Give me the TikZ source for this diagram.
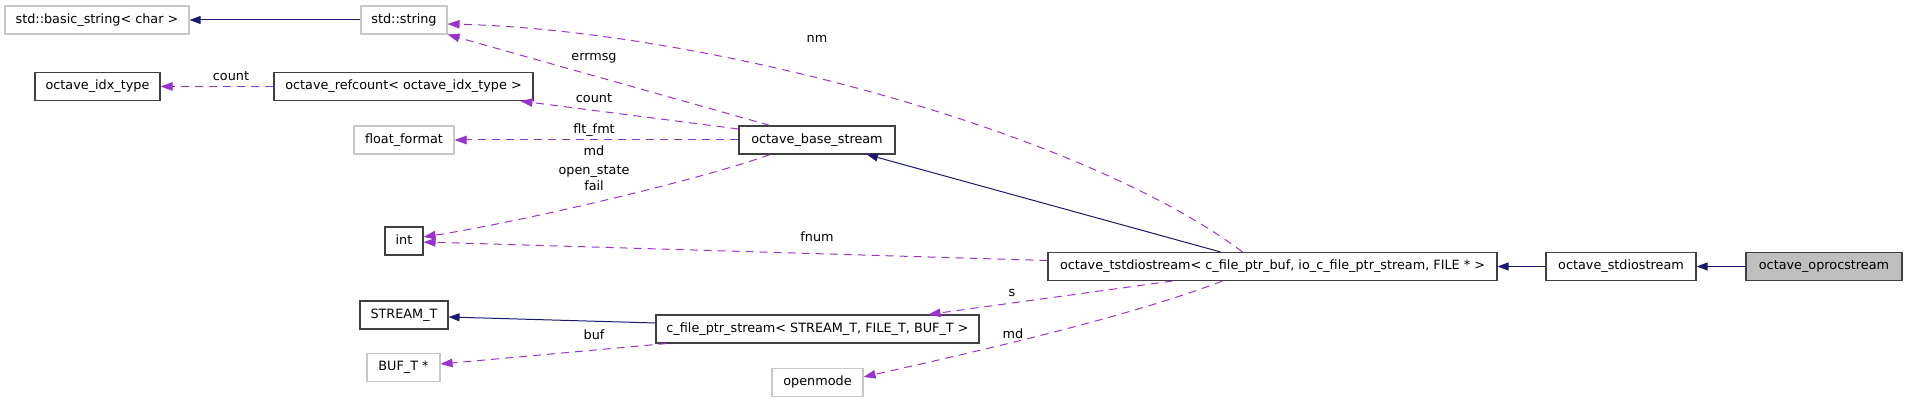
\documentclass[tikz,border=0pt]{standalone}
\usepackage{fontspec}
\setmainfont{DejaVu Sans}
\usetikzlibrary{arrows.meta}
\definecolor{navy}{RGB}{25,25,112}
\definecolor{orchid}{RGB}{154,50,205}
\definecolor{lgray}{RGB}{200,200,200}
\definecolor{fillgray}{RGB}{191,191,191}
\definecolor{bord}{RGB}{64,64,64}
\begin{document}
\begin{tikzpicture}[x=1pt,y=-1pt,
  box/.style={draw=bord, line width=1.1pt, minimum height=28pt, inner sep=0pt,
    text height=9.5pt, text depth=3pt, font=\fontsize{12.8}{15}\selectfont},
  gbox/.style={box, draw=lgray},
  inh/.style={draw=navy, line width=1pt, -{Triangle[length=11pt,width=8pt]}},
  use/.style={draw=orchid, line width=1pt, dash pattern=on 8pt off 6pt,
    -{Triangle[length=12pt,width=8.5pt]}},
  lbl/.style={font=\fontsize{12.8}{15}\selectfont, inner sep=0pt, text height=9.5pt, text depth=3pt}]
\useasboundingbox (0,0) rectangle (1907,403);

% nodes
\node[gbox, minimum width=184pt] (bstr) at (97,20) {std::basic\_string< char >};
\node[gbox, minimum width=86pt] (str) at (404,20) {std::string};
\node[box, minimum width=125pt] (idx) at (97.5,86.5) {octave\_idx\_type};
\node[box, minimum width=259pt] (ref) at (403.5,86.5) {octave\_refcount< octave\_idx\_type >};
\node[gbox, minimum width=100pt] (ff) at (404,140) {float\_format};
\node[box, minimum width=38pt] (int) at (404,241) {int};
\node[box, minimum width=88pt] (st) at (404,315) {STREAM\_T};
\node[gbox, minimum width=73pt] (buf) at (403.5,367.5) {BUF\_T *};
\node[box, minimum width=156pt] (base) at (817,140) {octave\_base\_stream};
\node[box, minimum width=323pt] (cfp) at (817.5,329) {c\_file\_ptr\_stream< STREAM\_T, FILE\_T, BUF\_T >};
\node[gbox, minimum width=91pt] (om) at (817.5,382.5) {openmode};
\node[box, minimum width=449pt] (tst) at (1272.5,266.5) {octave\_tstdiostream< c\_file\_ptr\_buf, io\_c\_file\_ptr\_stream, FILE * >};
\node[box, minimum width=150pt] (std) at (1621,266.5) {octave\_stdiostream};
\node[box, minimum width=156pt, fill=fillgray] (opr) at (1824,266.5) {octave\_oprocstream};

% inheritance
\draw[inh] (str.west) -- (bstr.east);
\draw[inh] ([xshift=-52]tst.north) -- ([xshift=50]base.south);
\draw[inh] ([yshift=6]cfp.west) -- ([yshift=-2]st.east);
\draw[inh] (std.west) -- (tst.east);
\draw[inh] (opr.west) -- (std.east);

% usage
\draw[use] (ref.west) -- (idx.east);
\node[lbl] (lcount1) at (231,77) {count};

\draw[use] ([xshift=-47]base.north) -- (str.south east);
\node[lbl] (lerr) at (594,57) {errmsg};

\draw[use] ([xshift=-30]tst.north) .. controls (1080,130) and (700,30) .. ([yshift=-4]str.east);
\node[lbl] (lnm) at (817,39) {nm};

\draw[use] ([yshift=11]base.west) -- ([xshift=-13]ref.south east);
\node[lbl] (lcount2) at (594,99) {count};

\draw[use] (base.west) -- (ff.east);
\node[lbl] (lflt) at (594,130) {flt\_fmt};

\draw[use] ([xshift=-47]base.south) .. controls (700,180) and (520,222) .. ([yshift=4]int.east);
\node[lbl] (lmd1) at (594,152) {md};
\node[lbl] (lopen) at (594,171) {open\_state};
\node[lbl] (lfail) at (594,187) {fail};

\draw[use] ([yshift=6]tst.west) -- ([yshift=-1]int.east);
\node[lbl] (lfnum) at (817,238) {fnum};

\draw[use] ([xshift=-100]tst.south) -- ([xshift=111]cfp.north);
\node[lbl] (ls) at (1012,293) {s};

\draw[use] ([xshift=-50]tst.south) .. controls (1120,320) and (960,355) .. ([yshift=5.5]om.east);
\node[lbl] (lmd2) at (1013,335) {md};

\draw[use] ([xshift=11]cfp.south west) -- ([yshift=3.5]buf.east);
\node[lbl] (lbuf) at (594,336) {buf};
\end{tikzpicture}
\end{document}
